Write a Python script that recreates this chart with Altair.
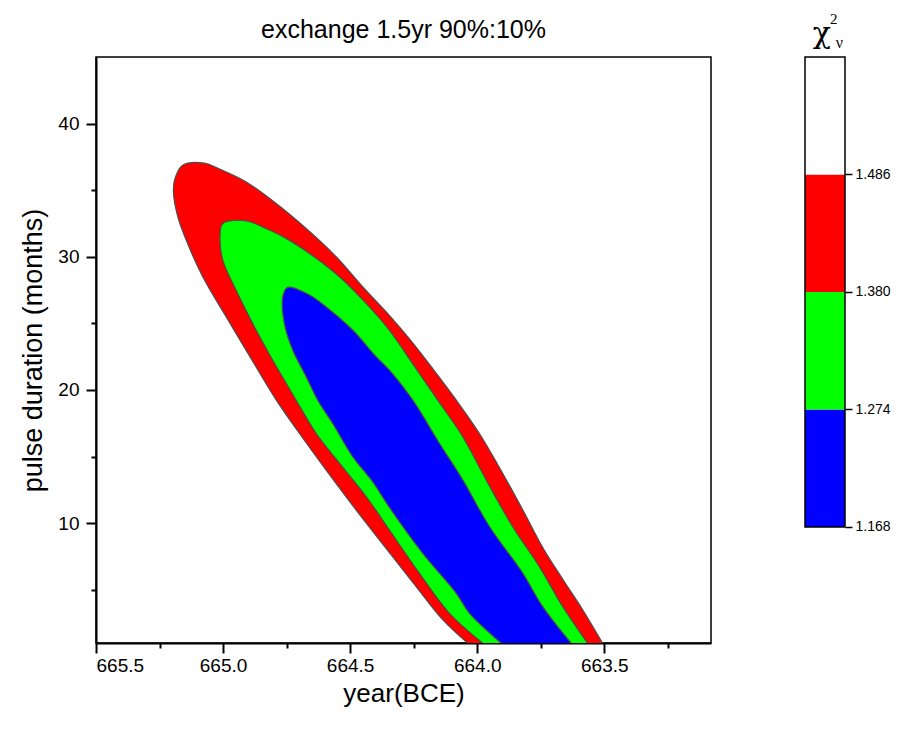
import altair as alt
import pandas as pd

# ---- contour outlines (year BCE, pulse duration in months), traced in path order ----
red_year = [664.038, 664.136, 664.241, 664.350, 664.477, 664.595, 664.700, 664.791, 664.902,
            664.988, 665.080, 665.145, 665.178, 665.195, 665.191, 665.159, 665.080, 665.003,
            664.909, 664.791, 664.673, 664.555, 664.451, 664.346, 664.265, 664.175, 664.083,
            663.992, 663.900, 663.821, 663.737, 663.662, 663.585, 663.507]
red_dur = [1.0, 2.75, 5.25, 7.9, 11.0, 14.0, 16.75, 19.25, 22.75,
           25.5, 28.5, 31.25, 33.0, 34.75, 35.75, 36.87, 37.05, 36.5,
           35.62, 34.0, 32.12, 30.0, 27.75, 25.6, 23.8, 21.6, 19.25,
           16.75, 13.75, 11.0, 8.0, 5.75, 3.5, 1.0]

green_year = [663.979, 664.110, 664.228, 664.346, 664.437, 664.542, 664.634, 664.713, 664.805,
              664.870, 664.949, 665.001, 665.012, 665.001, 664.909, 664.831, 664.752, 664.660,
              664.542, 664.437, 664.346, 664.255, 664.156, 664.057, 663.965, 663.861, 663.756,
              663.664, 663.566]
green_dur = [1.0, 3.25, 6.25, 9.5, 12.0, 14.5, 16.75, 19.25, 22.25,
             24.5, 27.5, 29.75, 31.5, 32.5, 32.7, 32.12, 31.38, 30.25,
             28.5, 26.5, 24.5, 22.0, 19.25, 16.5, 13.25, 9.75, 6.75,
             3.75, 1.0]

blue_year = [663.906, 664.031, 664.083, 664.215, 664.346, 664.411, 664.490, 664.569, 664.628,
             664.673, 664.726, 664.759, 664.765, 664.746, 664.667, 664.595, 664.490, 664.398,
             664.346, 664.254, 664.149, 664.057, 663.952, 663.821, 663.743, 663.631]
blue_dur = [1.0, 3.25, 4.75, 7.75, 11.2, 13.1, 15.0, 17.5, 19.25,
            21.0, 23.0, 25.0, 27.0, 27.7, 27.2, 26.25, 24.5, 22.5,
            21.5, 19.25, 16.0, 13.25, 9.75, 6.25, 3.75, 1.0]

# ---- axes ----
x_major = [665.5, 665.0, 664.5, 664.0, 663.5]
x_minor = [665.25, 664.75, 664.25, 663.75, 663.25]
y_major = [10, 20, 30, 40]
y_minor = [5, 15, 25, 35]

# ---- colour bar (chi^2_nu levels) ----
cb_lo = [1.168, 1.274, 1.380, 1.486]
cb_hi = [1.274, 1.380, 1.486, 1.592]
cb_colors = ["#0000FF", "#00FF00", "#FF0000", "#FFFFFF"]
cb_ticks = [1.168, 1.274, 1.380, 1.486]

W, H = 615, 586
FONT = "Liberation Sans"

xscale = alt.Scale(domain=[665.5, 663.08], nice=False, zero=False)
yscale = alt.Scale(domain=[1, 45], nice=False, zero=False)

x_axis = alt.Axis(
    values=x_major, title="year(BCE)", orient="bottom", format=".1f",
    tickSize=10, tickWidth=2, tickColor="black", domainWidth=2, domainColor="black",
    labelFont=FONT, labelFontSize=19, labelColor="black", labelPadding=3, labelOverlap=False,
    titleFont=FONT, titleFontSize=26, titleFontWeight="normal", titleColor="black", titlePadding=5,
    grid=False,
)
x_axis_minor = alt.Axis(
    values=x_minor, orient="bottom", labels=False, domain=False, title=None,
    tickSize=5, tickWidth=2, tickColor="black", grid=False,
)
y_axis = alt.Axis(
    values=y_major, title="pulse duration (months)", orient="left",
    tickSize=10, tickWidth=2, tickColor="black", domainWidth=2, domainColor="black",
    labelFont=FONT, labelFontSize=19, labelColor="black", labelPadding=7, labelOverlap=False,
    titleFont=FONT, titleFontSize=27, titleFontWeight="normal", titleColor="black", titlePadding=10,
    grid=False,
)
y_axis_minor = alt.Axis(
    values=y_minor, orient="left", labels=False, domain=False, title=None,
    tickSize=5, tickWidth=2, tickColor="black", grid=False,
)


def poly(years, durs):
    return pd.DataFrame({"year": years, "duration": durs, "idx": list(range(len(years)))})


def poly_layer(years, durs, color, ax_x=None, ax_y=None, opacity=1.0):
    return alt.Chart(poly(years, durs)).mark_line(
        fill=color, stroke="#4d4d4d", strokeWidth=1.2, interpolate="catmull-rom",
        opacity=opacity,
    ).encode(
        x=alt.X("year:Q", scale=xscale, axis=ax_x),
        y=alt.Y("duration:Q", scale=yscale, axis=ax_y),
        order="idx:Q",
    )


main = alt.layer(
    poly_layer(red_year, red_dur, "#FF0000", x_axis, y_axis),
    poly_layer(green_year, green_dur, "#00FF00"),
    poly_layer(blue_year, blue_dur, "#0000FF"),
    poly_layer(blue_year, blue_dur, "#0000FF", x_axis_minor, y_axis_minor, opacity=0),
).resolve_axis(x="independent", y="independent")

# colour bar scales: bar spans x 0..1 placed right of the plot; y spans the chi^2 levels
cb_xscale = alt.Scale(domain=[-17.725, -2.35], nice=False, zero=False)
cb_yscale = alt.Scale(domain=[1.06335, 1.592], nice=False, zero=False)

cb_df = pd.DataFrame({"lo": cb_lo, "hi": cb_hi, "color": cb_colors, "x0": [0] * 4, "x1": [1] * 4})
cb_axis = alt.Axis(
    values=cb_ticks, format=".3f", orient="right", offset=134, domain=False,
    tickSize=7, tickWidth=1.5, tickColor="black",
    labelFont=FONT, labelFontSize=14, labelColor="black", labelPadding=3,
    title=None, grid=False, labelOverlap=False,
)
cb_rect = alt.Chart(cb_df).mark_rect(strokeWidth=0).encode(
    x=alt.X("x0:Q", scale=cb_xscale, axis=None),
    x2="x1:Q",
    y=alt.Y("lo:Q", scale=cb_yscale, axis=cb_axis),
    y2="hi:Q",
    color=alt.Color("color:N", scale=None, legend=None),
)
cb_frame_df = pd.DataFrame({"lo": [cb_lo[0]], "hi": [cb_hi[-1]], "x0": [0], "x1": [1]})
cb_frame = alt.Chart(cb_frame_df).mark_rect(fillOpacity=0, stroke="black", strokeWidth=1.5).encode(
    x="x0:Q", x2="x1:Q", y="lo:Q", y2="hi:Q"
)
one = pd.DataFrame({"a": [0]})
chi = alt.Chart(one).mark_text(text="χ", font="DejaVu Serif", fontSize=30, color="black").encode(
    x=alt.datum(0.42), y=alt.datum(1.6127)
)
sup = alt.Chart(one).mark_text(text="2", font="Liberation Serif", fontSize=15, color="black").encode(
    x=alt.datum(0.72), y=alt.datum(1.6263)
)
sub = alt.Chart(one).mark_text(text="ν", font="Liberation Serif", fontSize=16, color="black").encode(
    x=alt.datum(0.86), y=alt.datum(1.6046)
)
cb = alt.layer(cb_rect, cb_frame, chi, sup, sub)

chart = alt.layer(main, cb).resolve_scale(x="independent", y="independent").properties(
    width=W, height=H,
    autosize=alt.AutoSizeParams(type="none"),
    padding={"left": 88, "top": 49, "right": 180, "bottom": 75},
    title=alt.Title("exchange 1.5yr 90%:10%", font=FONT, fontSize=25, fontWeight="normal",
                    color="black", anchor="middle", frame="group", offset=-31),
).configure_view(stroke="black", strokeWidth=1.5)

chart.save("out.html", embed_options={"renderer": "svg", "actions": False})
